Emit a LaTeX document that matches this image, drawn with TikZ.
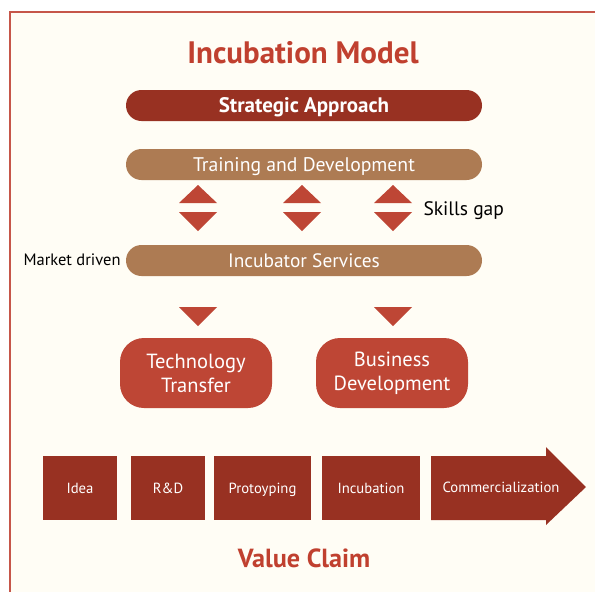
\documentclass[tikz,border=0pt]{standalone}
\usepackage{fontspec}
\setmainfont{PT Sans}
\definecolor{frame}{HTML}{C65649}
\definecolor{cream}{HTML}{FFFDF5}
\definecolor{darkred}{HTML}{983122}
\definecolor{brown}{HTML}{AD7B53}
\definecolor{brightred}{HTML}{BE4635}
\definecolor{titlered}{HTML}{C0402F}
\tikzset{
  pill/.style={rounded corners=15.5pt, minimum width=356pt, minimum height=31pt, inner sep=0pt, text=white, text depth=0pt},
  roundbox/.style={fill=brightred, rounded corners=24pt, minimum width=152pt, minimum height=70pt, inner sep=0pt, text=white, align=center, font=\fontsize{20.5}{24}\selectfont},
  stage/.style={fill=darkred, minimum height=64pt, inner sep=0pt, text=white, text depth=0pt, font=\fontsize{14.7}{17}\selectfont},
  tri/.style={fill=brightred}
}
\begin{document}
\begin{tikzpicture}[x=1pt,y=-1pt]
\useasboundingbox (0,0) rectangle (595,592);
\fill[white] (0,0) rectangle (595,592);
\fill[cream] (10,12) rectangle (595,592);
\draw[frame, line width=2pt] (10,600) -- (10,12) -- (600,12);

\node[text=titlered, font=\bfseries\fontsize{31}{36}\selectfont] (title) at (303,53) {Incubation Model};

\node[pill, fill=darkred, font=\bfseries\fontsize{21}{24}\selectfont] (strat) at (304,105.5) {Strategic Approach};
\node[pill, fill=brown, font=\fontsize{19.7}{23}\selectfont] (train) at (304,164.5) {Training and Development};
\node[pill, fill=brown, font=\fontsize{19.4}{23}\selectfont] (serv) at (304,260.5) {Incubator Services};

\foreach \cx in {198,302,393}{
  \fill[tri] (\cx-19,203) -- (\cx,185) -- (\cx+19,203) -- cycle;
  \fill[tri] (\cx-19,212) -- (\cx,231) -- (\cx+19,212) -- cycle;
}
\node[anchor=west, font=\fontsize{19.5}{23}\selectfont] (skills) at (420,211) {Skills gap};
\node[anchor=west, font=\fontsize{16.5}{19}\selectfont] (market) at (20,260) {Market driven};

\foreach \cx in {198,393}{
  \fill[tri] (\cx-19,307) -- (\cx,326) -- (\cx+19,307) -- cycle;
}

\node[roundbox] (tech) at (196,373) {Technology\\Transfer};
\node[roundbox] (bus) at (392,373) {Business\\Development};

\node[stage, minimum width=74pt] (idea) at (80,488) {Idea};
\node[stage, minimum width=74pt] (rd) at (168,488) {R\&D};
\node[stage, minimum width=97pt] (proto) at (262.5,488) {Protoyping};
\node[stage, minimum width=98pt] (incub) at (371,488) {Incubation};
\fill[darkred] (431,456) -- (546,456) -- (546,447) -- (586,487) -- (546,525) -- (546,520) -- (431,520) -- cycle;
\node[text=white, text depth=0pt, font=\fontsize{14.7}{17}\selectfont] (comm) at (501,487) {Commercialization};

\node[text=titlered, font=\bfseries\fontsize{26.2}{30}\selectfont] (value) at (304,558) {Value Claim};
\end{tikzpicture}
\end{document}
